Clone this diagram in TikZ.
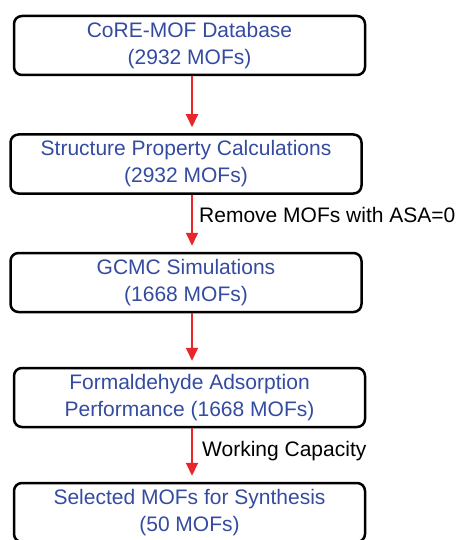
\documentclass[tikz,border=0pt]{standalone}
\usepackage{fontspec}
\setmainfont{Liberation Sans}
\usetikzlibrary{arrows.meta}
\definecolor{boxtext}{RGB}{52,75,160}
\definecolor{flowred}{RGB}{232,38,43}

\begin{document}
\begin{tikzpicture}[x=1pt,y=-1pt,
  every path/.style={>={Triangle[width=12pt,length=13pt]}},
  stage/.style={draw,line width=2.5pt,rounded corners=8pt,minimum width=351pt,minimum height=59pt,
    align=center,text=boxtext,font=\fontsize{21}{27}\selectfont,inner sep=0pt},
  flow/.style={->,draw=flowred,fill=flowred,line width=2pt,shorten >=6pt},
  note/.style={anchor=west,inner sep=0pt,font=\fontsize{21}{27}\selectfont}]
\useasboundingbox (0,0) rectangle (460,540);
\clip (0,0) rectangle (460,540);
\node[stage] (db)   at (189.5,45.5)  {CoRE-MOF Database\\(2932 MOFs)};
\node[stage] (spc)  at (186,164)     {Structure Property Calculations\\(2932 MOFs)};
\node[stage] (gcmc) at (186,282.5)   {GCMC Simulations\\(1668 MOFs)};
\node[stage] (perf) at (189.5,397.5) {Formaldehyde Adsorption\\Performance (1668 MOFs)};
\node[stage] (sel)  at (189.5,512.5) {Selected MOFs for Synthesis\\(50 MOFs)};
\node[note]  (asa)  at (199,215)     {Remove MOFs with ASA=0};
\node[note]  (wc)   at (202,451)     {Working Capacity};
\draw[flow] ([xshift=2.5pt]db.south) -- ([xshift=6pt]spc.north);
\draw[flow] ([xshift=6pt]spc.south)  -- ([xshift=6pt]gcmc.north);
\draw[flow] ([xshift=6pt]gcmc.south) -- ([xshift=2.5pt]perf.north);
\draw[flow] ([xshift=2.5pt]perf.south) -- ([xshift=2.5pt]sel.north);
\end{tikzpicture}
\end{document}
